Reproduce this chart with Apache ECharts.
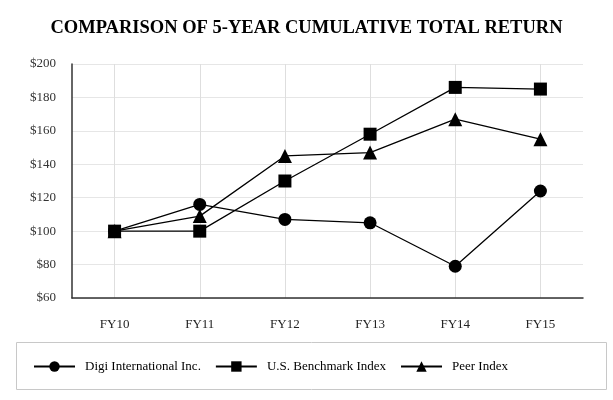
<!DOCTYPE html>
<html><head><meta charset="utf-8">
<script src="https://cdn.jsdelivr.net/npm/echarts@6/dist/echarts.min.js"></script>
<style>html,body{margin:0;padding:0;background:#fff}#c{width:613px;height:400px}</style>
</head><body><div id="c"></div>
<script>
const categories = ['FY10','FY11','FY12','FY13','FY14','FY15'];
const digi = [100, 116, 107, 105, 79, 124];
const benchmark = [100, 100, 130, 158, 186, 185];
const peer = [100, 109, 145, 147, 167, 155];
const seriesNames = ['Digi International Inc.', 'U.S. Benchmark Index', 'Peer Index'];
const serif = '"Liberation Serif", "DejaVu Serif", serif';

const chart = echarts.init(document.getElementById('c'));
const mk = (name, data, symbol, size) => ({
  name, type: 'line', data, symbol, symbolSize: size,
  lineStyle: {color: '#000', width: 1.3},
  itemStyle: {color: '#000'},
  emphasis: {disabled: true},
  animation: false
});
chart.setOption({
  animation: false,
  title: {
    text: 'COMPARISON OF 5-YEAR CUMULATIVE TOTAL RETURN',
    left: 'center', top: 14,
    textStyle: {fontFamily: serif, fontWeight: 'bold', fontSize: 18.5, color: '#000'}
  },
  graphic: [{
    type: 'rect', left: 14, top: 340,
    shape: {width: 590, height: 47},
    style: {fill: 'none', stroke: '#c8c8c8', lineWidth: 1}
  }],
  legend: {
    left: 28, top: 355, itemWidth: 41, itemHeight: 13, itemGap: 14,
    textStyle: {fontFamily: serif, fontSize: 13, color: '#000', padding: [0, 0, 0, 5]},
    data: seriesNames
  },
  grid: {left: 72, right: 30, top: 64, bottom: 102},
  xAxis: {
    type: 'category', data: categories, boundaryGap: true,
    axisLine: {lineStyle: {color: '#333', width: 1.5}},
    axisTick: {alignWithLabel: true, length: 7, lineStyle: {color: '#333'}},
    axisLabel: {fontFamily: serif, fontSize: 13, color: '#222', margin: 20},
    splitLine: {show: true, alignWithLabel: true, lineStyle: {color: '#dedede'}}
  },
  yAxis: {
    type: 'value', min: 60, max: 200, interval: 20,
    axisLine: {show: true, lineStyle: {color: '#333', width: 1.5}},
    axisTick: {show: false},
    axisLabel: {fontFamily: serif, fontSize: 13, color: '#333', margin: 16, formatter: v => '$' + v},
    splitLine: {lineStyle: {color: '#e6e6e6'}}
  },
  series: [
    mk(seriesNames[0], digi, 'circle', 13),
    mk(seriesNames[1], benchmark, 'rect', 13),
    mk(seriesNames[2], peer, 'triangle', 14)
  ]
});
</script></body></html>
